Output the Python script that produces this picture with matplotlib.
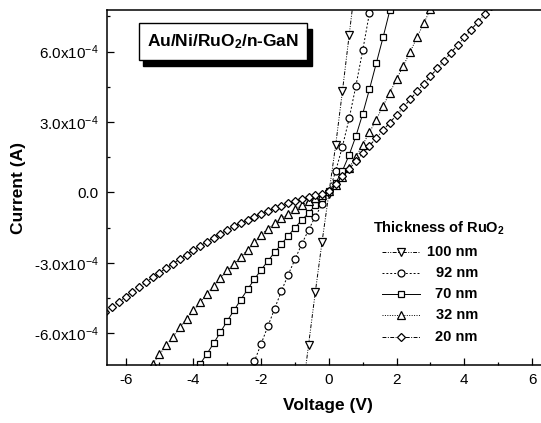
import numpy as np
import matplotlib
matplotlib.use('Agg')
import matplotlib.pyplot as plt
from matplotlib.patches import Rectangle
from matplotlib.ticker import MultipleLocator, FixedLocator

# current values read in units of 1e-4 A
v_100 = [-0.8, -0.6, -0.4, -0.2, 0.0, 0.2, 0.4, 0.6, 0.8]
i_100 = [-8.8, -6.5, -4.25, -2.1, -0.05, 2.0, 4.3, 6.7, 9.1]

v_92 = [-2.4, -2.2, -2.0, -1.8, -1.6, -1.4, -1.2, -1.0, -0.8, -0.6,
        -0.4, -0.2, 0.0, 0.2, 0.4, 0.6, 0.8, 1.0, 1.2, 1.4]
i_92 = [-8.0, -7.2, -6.45, -5.7, -4.95, -4.2, -3.5, -2.85, -2.2, -1.6,
        -1.03, -0.5, 0.0, 0.9, 1.95, 3.15, 4.55, 6.05, 7.65, 9.3]

v_70 = [-4.0, -3.8, -3.6, -3.4, -3.2, -3.0, -2.8, -2.6, -2.4, -2.2,
        -2.0, -1.8, -1.6, -1.4, -1.2, -1.0, -0.8, -0.6, -0.4, -0.2,
        0.0, 0.2, 0.4, 0.6, 0.8, 1.0, 1.2, 1.4, 1.6, 1.8, 2.0]
i_70 = [-7.8, -7.3, -6.88, -6.42, -5.95, -5.47, -5.02, -4.57, -4.13, -3.7,
        -3.3, -2.92, -2.55, -2.2, -1.85, -1.5, -1.18, -0.88, -0.55, -0.25,
        0.05, 0.4, 0.92, 1.6, 2.4, 3.35, 4.4, 5.5, 6.6, 7.75, 8.9]

v_32 = [-5.4, -5.2, -5.0, -4.8, -4.6, -4.4, -4.2, -4.0, -3.8, -3.6,
        -3.4, -3.2, -3.0, -2.8, -2.6, -2.4, -2.2, -2.0, -1.8, -1.6,
        -1.4, -1.2, -1.0, -0.8, -0.6, -0.4, -0.2, 0.0, 0.2, 0.4,
        0.6, 0.8, 1.0, 1.2, 1.4, 1.6, 1.8, 2.0, 2.2, 2.4,
        2.6, 2.8, 3.0]
i_32 = [-7.7, -7.3, -6.9, -6.5, -6.15, -5.75, -5.38, -5.02, -4.68, -4.32,
        -3.97, -3.64, -3.32, -3.05, -2.75, -2.45, -2.12, -1.8, -1.55, -1.32,
        -1.11, -0.91, -0.71, -0.53, -0.37, -0.23, -0.1, 0.05, 0.3, 0.65,
        1.05, 1.52, 2.03, 2.56, 3.1, 3.68, 4.25, 4.82, 5.4, 5.98,
        6.6, 7.2, 7.8]

v_20 = [-6.6, -6.4, -6.2, -6.0, -5.8, -5.6, -5.4, -5.2, -5.0, -4.8,
        -4.6, -4.4, -4.2, -4.0, -3.8, -3.6, -3.4, -3.2, -3.0, -2.8,
        -2.6, -2.4, -2.2, -2.0, -1.8, -1.6, -1.4, -1.2, -1.0, -0.8,
        -0.6, -0.4, -0.2, 0.0, 0.2, 0.4, 0.6, 0.8, 1.0, 1.2,
        1.4, 1.6, 1.8, 2.0, 2.2, 2.4, 2.6, 2.8, 3.0, 3.2,
        3.4, 3.6, 3.8, 4.0, 4.2, 4.4, 4.6, 4.8, 5.0]
i_20 = [-5.1, -4.88, -4.66, -4.45, -4.24, -4.03, -3.82, -3.62, -3.42, -3.22,
        -3.03, -2.84, -2.65, -2.46, -2.28, -2.1, -1.93, -1.76, -1.6, -1.44,
        -1.3, -1.16, -1.03, -0.9, -0.78, -0.67, -0.56, -0.46, -0.37, -0.28,
        -0.2, -0.12, -0.05, 0.05, 0.38, 0.7, 1.0, 1.33, 1.66, 1.99,
        2.32, 2.65, 2.97, 3.3, 3.63, 3.96, 4.3, 4.62, 4.95, 5.28,
        5.61, 5.94, 6.27, 6.6, 6.93, 7.26, 7.6, 7.93, 8.26]

labels = ['100 nm', '92 nm', '70 nm', '32 nm', '20 nm']
y_ticks = [-6e-4, -3e-4, 0.0, 3e-4, 6e-4]
y_ticklabels = ['-6.0x10$^{-4}$', '-3.0x10$^{-4}$', '0.0', '3.0x10$^{-4}$', '6.0x10$^{-4}$']

plt.rcParams['font.family'] = ['Liberation Sans', 'DejaVu Sans']
plt.rcParams['mathtext.default'] = 'regular'
plt.rcParams['axes.unicode_minus'] = False

fig = plt.figure(figsize=(5.41, 4.23), dpi=100)
# the right spine falls just outside the picture, like the scan
ax = fig.add_axes([107 / 541, 58 / 423, 442 / 541, 355 / 423])

series = [
    (v_100, i_100, 'v', (0, (4, 1.5, 1, 1.5, 1, 1.5)), 5.8),
    (v_92, i_92, 'o', (0, (2, 2)), 5.0),
    (v_70, i_70, 's', '-', 4.6),
    (v_32, i_32, '^', (0, (1, 1.5)), 5.8),
    (v_20, i_20, 'D', (0, (4, 1.5, 1, 1.5)), 4.2),
]

for v, cur, mk, ls, ms in series:
    ax.plot(v, np.array(cur) * 1e-4, color='black', lw=0.7, linestyle=ls,
            marker=mk, ms=ms, mfc='white', mec='black', mew=0.9)

ax.set_xlim(-6.55, 6.5)
ax.set_ylim(-7.35e-4, 7.77e-4)
ax.xaxis.set_major_locator(MultipleLocator(2))
ax.xaxis.set_minor_locator(MultipleLocator(1))
ax.yaxis.set_major_locator(FixedLocator(y_ticks))
ax.yaxis.set_minor_locator(MultipleLocator(1.5e-4))
ax.set_yticklabels(y_ticklabels)
ax.tick_params(which='both', direction='in', width=0.9, labelsize=11)
ax.tick_params(which='major', length=5, pad=6)
ax.tick_params(which='minor', length=2.5)
for sp in ax.spines.values():
    sp.set_linewidth(1.1)

ax.set_xlabel('Voltage (V)', fontsize=12.5, fontweight='bold', labelpad=8)
ax.set_ylabel('Current (A)', fontsize=12.5, fontweight='bold', labelpad=6)

# boxed sample name with a black drop shadow
ax.add_patch(Rectangle((0.0814, 0.843), 0.3824, 0.104, transform=ax.transAxes,
                       facecolor='black', edgecolor='black', zorder=5))
ax.add_patch(Rectangle((0.0724, 0.859), 0.380, 0.1044, transform=ax.transAxes,
                       facecolor='white', edgecolor='black', lw=1.0, zorder=6))
ax.text(0.2624, 0.911, 'Au/Ni/RuO$_2$/n-GaN', transform=ax.transAxes,
        ha='center', va='center', fontsize=12.5, fontweight='bold', zorder=7)

# legend drawn by hand so the labels line up on the right
ax.text(0.602, 0.386, 'Thickness of RuO$_2$', transform=ax.transAxes,
        ha='left', va='center', fontsize=10.5, fontweight='bold')
row_y = [0.319, 0.260, 0.200, 0.141, 0.080]
for (v, cur, mk, ls, ms), lab, yy in zip(series, labels, row_y):
    ax.plot([0.622, 0.665, 0.708], [yy, yy, yy], transform=ax.transAxes,
            color='black', lw=0.7, linestyle=ls, marker=mk, ms=ms,
            mfc='white', mec='black', mew=0.9, markevery=[1], clip_on=False)
    ax.text(0.839, yy, lab, transform=ax.transAxes, ha='right', va='center',
            fontsize=10.5, fontweight='bold')

fig.savefig('out.png', dpi=100)
